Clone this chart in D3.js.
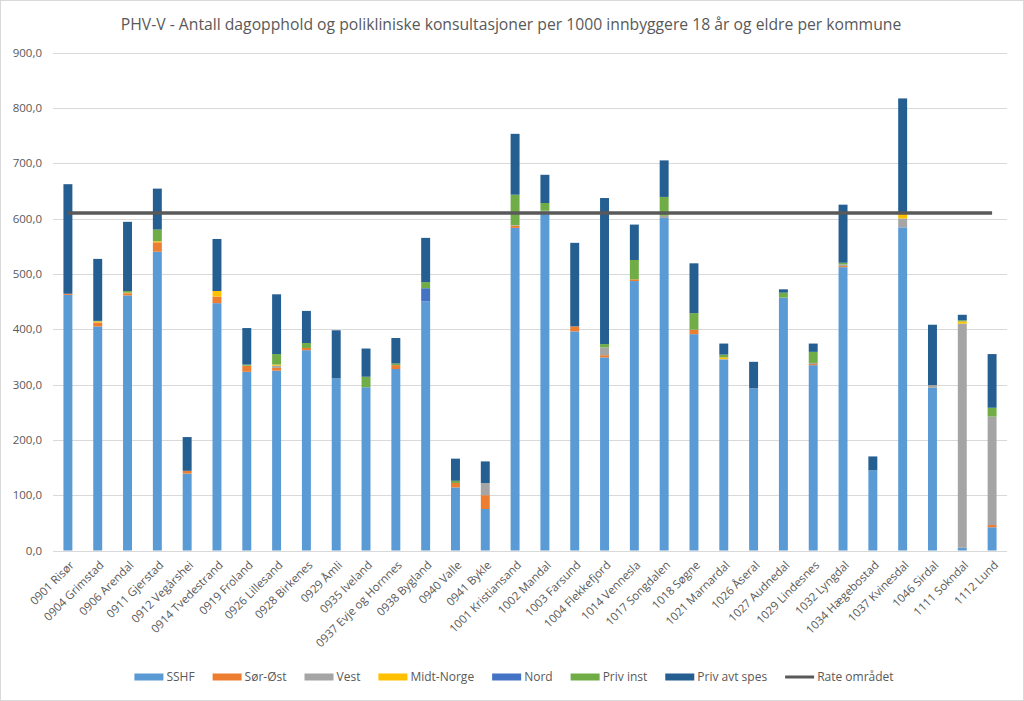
<!DOCTYPE html>
<html><head><meta charset="utf-8">
<script src="https://cdn.jsdelivr.net/npm/d3@7"></script>
<style>body{margin:0;background:#fff}svg{display:block}text{font-family:"Open Sans","Noto Sans",sans-serif}</style>
</head><body>
<script>
const categories = ["0901 Risør","0904 Grimstad","0906 Arendal","0911 Gjerstad","0912 Vegårshei","0914 Tvedestrand","0919 Froland","0926 Lillesand","0928 Birkenes","0929 Åmli","0935 Iveland","0937 Evje og Hornnes","0938 Bygland","0940 Valle","0941 Bykle","1001 Kristiansand","1002 Mandal","1003 Farsund","1004 Flekkefjord","1014 Vennesla","1017 Songdalen","1018 Søgne","1021 Marnardal","1026 Åseral","1027 Audnedal","1029 Lindesnes","1032 Lyngdal","1034 Hægebostad","1037 Kvinesdal","1046 Sirdal","1111 Sokndal","1112 Lund"];
const seriesNames = ["SSHF","Sør-Øst","Vest","Midt-Norge","Nord","Priv inst","Priv avt spes"];
const sshf     = [462,405,461,540,139,447,323,325,362,311,295,328,450,114,75,583,612,396,349,487,601,391,345,293,457,335,512,145,584,294,5,42];
const sorOst   = [2,7,4,17,5,12,11,5,4,0,0,7,0,8,25,4,0,9,4,3,0,8,0,0,0,2,2,0,0,0,0,4];
const vest     = [0,0,0,0,0,0,0,4,0,0,0,0,0,0,22,1,2,0,14,0,4,0,1,0,0,2,3,0,16,5,405,196];
const midtNorge= [0,2,1,2,0,10,0,2,0,0,0,0,0,0,0,0,0,0,0,0,0,0,3,0,0,0,0,0,9,0,4,0];
const nord     = [0,0,0,0,0,0,0,0,0,0,0,0,24,0,0,0,0,0,0,0,0,0,0,0,0,0,0,0,0,0,0,0];
const privInst = [0,1,3,21,0,0,2,19,9,0,19,3,11,4,0,55,14,0,6,35,34,30,5,0,9,20,3,0,0,0,2,16];
const privAvt  = [198,112,125,74,61,94,66,108,58,87,51,46,80,40,39,110,51,151,264,64,66,90,20,48,6,15,105,25,208,109,10,97];
const rateOmradet = 610;
const yTicks = [0,100,200,300,400,500,600,700,800,900];
const title = "PHV-V - Antall dagopphold og polikliniske konsultasjoner per 1000 innbyggere 18 år og eldre per kommune";
const rateName = "Rate området";

const colors = ["#5B9BD5","#ED7D31","#A5A5A5","#FFC000","#4472C4","#70AD47","#255E91"];
const seriesValues = [sshf,sorOst,vest,midtNorge,nord,privInst,privAvt];

const W=1024,H=701;
const svg = d3.select("body").append("svg").attr("width",W).attr("height",H);
svg.append("rect").attr("x",0.5).attr("y",0.5).attr("width",W-1).attr("height",H-1).attr("fill","#fff").attr("stroke","#D9D9D9");

const x = d3.scaleBand().domain(categories).range([53,1007]).paddingInner(0.7).paddingOuter(0.35);
const y = d3.scaleLinear().domain([0,900]).range([550.5,52.5]);

// gridlines
svg.append("g").selectAll("line").data(yTicks).join("line")
  .attr("x1",53).attr("x2",1007).attr("y1",d=>Math.round(y(d))+0.5).attr("y2",d=>Math.round(y(d))+0.5)
  .attr("stroke","#D9D9D9").attr("stroke-width",1);

// y axis labels
const fmt = d => d3.format(".1f")(d).replace(".",",");
svg.append("g").selectAll("text").data(yTicks).join("text")
  .attr("x",42).attr("y",d=>y(d)).attr("dy","0.35em").attr("text-anchor","end")
  .attr("font-size",11.5).attr("fill","#595959").text(fmt);

// stacked data
const rows = categories.map((c,i)=>{const o={cat:c}; seriesNames.forEach((s,k)=>o[s]=seriesValues[k][i]); return o;});
const stack = d3.stack().keys(seriesNames)(rows);
svg.append("g").selectAll("g").data(stack).join("g").attr("fill",(d,i)=>colors[i])
  .selectAll("rect").data(d=>d).join("rect")
  .attr("x",d=>x(d.data.cat)).attr("width",x.bandwidth())
  .attr("y",d=>y(d[1])).attr("height",d=>Math.max(0,y(d[0])-y(d[1])));

// rate line
const cx = c => x(c)+x.bandwidth()/2;
svg.append("line").attr("x1",cx(categories[0])).attr("x2",cx(categories[categories.length-1]))
  .attr("y1",y(rateOmradet)).attr("y2",y(rateOmradet)).attr("stroke","#595959").attr("stroke-width",3.5);

// x labels
svg.append("g").selectAll("text").data(categories).join("text")
  .attr("transform",d=>`translate(${cx(d)+4},${563}) rotate(-45)`)
  .attr("text-anchor","end").attr("dy","0.35em")
  .attr("font-size",11.5).attr("fill","#595959").text(d=>d);

// title
const t = svg.append("text").attr("x",511).attr("y",30).attr("text-anchor","middle")
  .attr("font-size",16).attr("fill","#595959").text(title);
const tw = t.node().getComputedTextLength();
t.attr("font-size",16*781/tw);

// legend
const legendItems = seriesNames.map((s,i)=>({name:s,color:colors[i],line:false})).concat([{name:rateName,color:"#595959",line:true}]);
const lg = svg.append("g");
let lx = 0;
const ly = 677;
legendItems.forEach(it=>{
  const g = lg.append("g").attr("transform",`translate(${lx},0)`);
  if(it.line){
    g.append("line").attr("x1",0).attr("x2",29).attr("y1",ly).attr("y2",ly).attr("stroke",it.color).attr("stroke-width",3);
  } else {
    g.append("rect").attr("x",0).attr("y",ly-3.5).attr("width",29).attr("height",7).attr("fill",it.color);
  }
  const tx = g.append("text").attr("x",32).attr("y",ly).attr("dy","0.35em").attr("font-size",12).attr("fill","#595959").text(it.name);
  lx += 32 + tx.node().getComputedTextLength() + 18;
});
const totalW = lx - 18;
lg.attr("transform",`translate(${514-totalW/2},0)`);
</script>
</body></html>
